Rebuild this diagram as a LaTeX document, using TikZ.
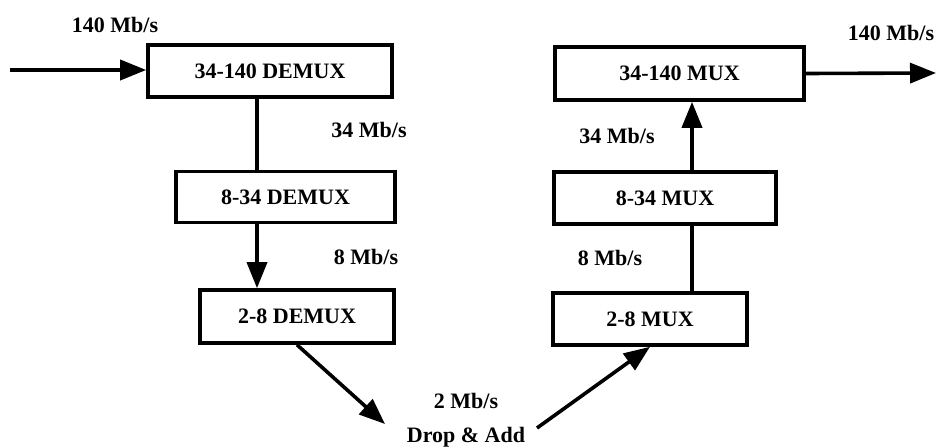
\documentclass[tikz,border=0pt]{standalone}
\usepackage{fontspec}
\setmainfont{Liberation Serif}
\usetikzlibrary{arrows.meta}
\begin{document}
\begin{tikzpicture}[x=1pt,y=-1pt,
  blk/.style={draw=black,line width=3.6pt,rectangle,inner sep=0pt,
    font=\fontsize{22}{24}\selectfont\bfseries},
  lbl/.style={inner sep=0pt,font=\fontsize{22}{24}\selectfont\bfseries},
  wire/.style={line width=3.6pt},
  flow/.style={line width=3.6pt,-{Triangle[length=26pt,width=20pt]}}]
\useasboundingbox (0,0) rectangle (936,447);

% demultiplexing chain
\node[blk,minimum width=244pt,minimum height=52pt] (d140) at (270,71) {34-140 DEMUX};
\node[blk,minimum width=219pt,minimum height=51pt] (d34)  at (285.5,197) {8-34 DEMUX};
\node[blk,minimum width=194pt,minimum height=53pt] (d8)   at (297,316.5) {2-8 DEMUX};

% multiplexing chain
\node[blk,minimum width=249pt,minimum height=53pt] (m140) at (679.5,73.5) {34-140 MUX};
\node[blk,minimum width=222pt,minimum height=52pt] (m34)  at (665,198) {8-34 MUX};
\node[blk,minimum width=194pt,minimum height=52pt] (m8)   at (650,319) {2-8 MUX};

% rate labels
\node[lbl] (inrate)  at (115,25)  {140 Mb/s};
\node[lbl] (outrate) at (891,33)  {140 Mb/s};
\node[lbl] (r34l)    at (369,130) {34 Mb/s};
\node[lbl] (r34r)    at (617,136) {34 Mb/s};
\node[lbl] (r8l)     at (366,257) {8 Mb/s};
\node[lbl] (r8r)     at (610,258) {8 Mb/s};
\node[lbl] (r2)      at (466,401) {2 Mb/s};
\node[lbl] (drop)    at (466,437) {Drop \& Add};

% free ends and connector columns
\coordinate (src)  at (10,70);
\coordinate (sink) at (936,73);
\coordinate (dtip) at (385,424);
\coordinate (atail) at (537,428);
\coordinate (colL) at (257,0);
\coordinate (colR) at (692,0);

% connectors
\draw[flow] (src) -- (d140.west |- src);
\draw[wire] (d140.south -| colL) -- (d34.north -| colL);
\draw[flow] (d34.south -| colL) -- (d8.north -| colL);
\draw[flow] (d8.south) -- (dtip);
\draw[flow] (atail) -- (m8.south);
\draw[wire] (m8.north -| colR) -- (m34.south -| colR);
\draw[flow] (m34.north -| colR) -- (m140.south -| colR);
\draw[flow] (m140.east) -- (sink);
\end{tikzpicture}
\end{document}
